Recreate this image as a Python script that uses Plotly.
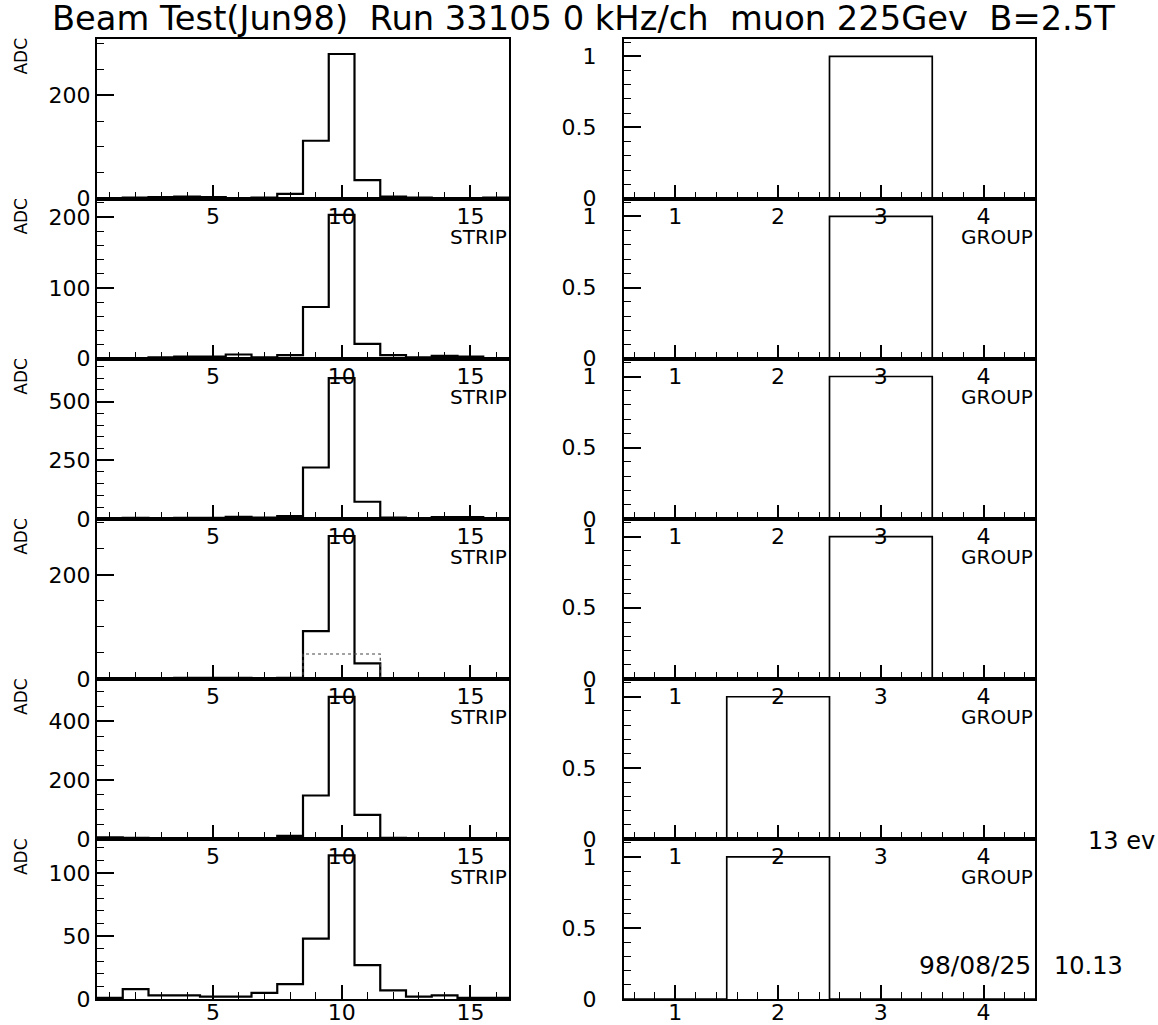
import plotly.graph_objects as go

# ---------------------------------------------------------------- data
strips = list(range(1, 17))          # strip numbers (left column)
groups = [1, 2, 3, 4]                # group numbers (right column)

# ADC per strip, one list per chamber layer (top to bottom)
adc_layer1 = [1, 2, 3, 4, 3, 1, 2, 9, 112, 280, 36, 4, 2, 1, 1, 2]
adc_layer2 = [1, 1, 2, 3, 3, 6, 2, 5, 73, 203, 21, 5, 2, 4, 3, 1]
adc_layer3 = [3, 4, 3, 4, 4, 8, 5, 12, 219, 600, 73, 5, 3, 7, 7, 2]
adc_layer4 = [1, 1, 1, 2, 2, 2, 1, 2, 92, 275, 30, 1, 1, 1, 1, 1]
adc_layer5 = [6, 4, 3, 3, 2, 2, 3, 11, 148, 483, 82, 4, 3, 2, 3, 1]
adc_layer6 = [1, 8, 3, 3, 2, 2, 5, 12, 48, 114, 27, 7, 2, 3, 1, 1]

# cluster window overlay drawn (dotted) on layer 4
adc_window4 = [0, 0, 0, 0, 0, 0, 0, 0, 48, 48, 48, 0, 0, 0, 0, 0]

# group hit flags per layer
group_layer1 = [0, 0, 1, 0]
group_layer2 = [0, 0, 1, 0]
group_layer3 = [0, 0, 1, 0]
group_layer4 = [0, 0, 1, 0]
group_layer5 = [0, 1, 0, 0]
group_layer6 = [0, 1, 0, 0]

adc_layers = [adc_layer1, adc_layer2, adc_layer3, adc_layer4, adc_layer5, adc_layer6]
group_layers = [group_layer1, group_layer2, group_layer3, group_layer4, group_layer5, group_layer6]

# vertical axis extent and tick steps of each ADC panel
adc_ymax = [310, 226, 683, 308, 544, 127]
adc_major = [200, 100, 250, 200, 200, 50]
adc_minor = [50, 20, 50, 50, 50, 10]

title_text = "Beam Test(Jun98)  Run 33105 0 kHz/ch  muon 225Gev  B=2.5T"
events_text = "13 ev"
date_text = "98/08/25"
time_text = "10.13"

# ---------------------------------------------------------------- layout
W, H = 1158, 1025
FONT = "DejaVu Sans"
LEFT_X = (97, 509)
RIGHT_X = (624, 1035)
TOP, BOTTOM = 39, 1012
NROW = 6
ROW_H = (BOTTOM - TOP) / NROW
TICK_SIZE = 22


def px_x(v):
    return v / W


def px_y(v):
    return 1 - v / H


def edges(centers):
    lo = [c - 0.5 for c in centers]
    return lo + [centers[-1] + 0.5]


def step_y(vals):
    return list(vals) + [vals[-1]]


fig = go.Figure()
layout_axes = {}
annotations = []

for r in range(NROW):
    y_top = TOP + r * ROW_H
    y_bot = y_top + ROW_H
    ydom = [px_y(y_bot), px_y(y_top)]
    last_row = r == NROW - 1
    for c in range(2):
        idx = r * 2 + c + 1
        xname = "xaxis" if idx == 1 else f"xaxis{idx}"
        yname = "yaxis" if idx == 1 else f"yaxis{idx}"
        xref = "x" if idx == 1 else f"x{idx}"
        yref = "y" if idx == 1 else f"y{idx}"

        if c == 0:
            xdom = [px_x(LEFT_X[0]), px_x(LEFT_X[1])]
            xr = [0.5, 16.5]
            xmaj, xmin = 5, 1
            yr = [0, adc_ymax[r]]
            ymaj, ymin = adc_major[r], adc_minor[r]
            ystand = 0
            fig.add_trace(go.Scatter(
                x=edges(strips), y=step_y(adc_layers[r]), mode="lines",
                line=dict(color="black", width=2.2, shape="hv"),
                xaxis=xref, yaxis=yref, hoverinfo="skip"))
            if r == 3:
                fig.add_trace(go.Scatter(
                    x=edges(strips), y=step_y(adc_window4), mode="lines",
                    line=dict(color="#444444", width=1.2, shape="hv", dash="dot"),
                    xaxis=xref, yaxis=yref, hoverinfo="skip"))
        else:
            xdom = [px_x(RIGHT_X[0]), px_x(RIGHT_X[1])]
            xr = [0.5, 4.5]
            xmaj, xmin = 1, 0.2
            yr = [0, 1.125]
            ymaj, ymin = 0.5, 0.1
            ystand = 21
            fig.add_trace(go.Scatter(
                x=edges(groups), y=step_y(group_layers[r]), mode="lines",
                line=dict(color="black", width=1.7, shape="hv"),
                xaxis=xref, yaxis=yref, hoverinfo="skip"))

        layout_axes[xname] = dict(
            domain=xdom, anchor=yref, range=xr,
            tickmode="linear", tick0=0, dtick=xmaj,
            ticks="inside", ticklen=14, tickwidth=1.5, tickcolor="black",
            minor=dict(dtick=xmin, tick0=0, ticks="inside", ticklen=7,
                       tickwidth=1.3, tickcolor="black"),
            showline=True, linewidth=2, linecolor="black", mirror=True,
            showgrid=False, zeroline=False,
            tickfont=dict(family=FONT, size=TICK_SIZE, color="black"),
            ticklabelstandoff=-8 if last_row else -3,
        )
        layout_axes[yname] = dict(
            domain=ydom, anchor=xref, range=yr,
            tickmode="linear", tick0=0, dtick=ymaj,
            ticks="inside", ticklen=17, tickwidth=1.5, tickcolor="black",
            minor=dict(dtick=ymin, tick0=0, ticks="inside", ticklen=7,
                       tickwidth=1.3, tickcolor="black"),
            showline=True, linewidth=2, linecolor="black", mirror=True,
            showgrid=False, zeroline=False,
            tickfont=dict(family=FONT, size=TICK_SIZE, color="black"),
            ticklabelstandoff=ystand,
        )

        # axis name under the tick labels (not on the bottom row)
        if not last_row:
            annotations.append(dict(
                text="STRIP" if c == 0 else "GROUP",
                xref=f"{xref} domain", x=1, xanchor="right",
                yref=f"{yref} domain", y=0, yanchor="middle", yshift=-38,
                showarrow=False,
                font=dict(family=FONT, size=20, color="black")))
        if c == 0:
            annotations.append(dict(
                text="ADC", textangle=-90,
                xref="paper", x=px_x(21), xanchor="center",
                yref=f"{yref} domain", y=1, yanchor="middle", yshift=-18,
                showarrow=False,
                font=dict(family=FONT, size=17, color="black")))

annotations += [
    dict(text=title_text, xref="paper", yref="paper",
         x=px_x(50), xanchor="left", y=px_y(19), yanchor="middle",
         showarrow=False, font=dict(family=FONT, size=33.7, color="black")),
    dict(text=events_text, xref="paper", yref="paper",
         x=px_x(1086), xanchor="left", y=px_y(852), yanchor="middle",
         showarrow=False, font=dict(family=FONT, size=24, color="black")),
    dict(text=date_text, xref="paper", yref="paper",
         x=px_x(1033), xanchor="right", y=px_y(978), yanchor="middle",
         showarrow=False, font=dict(family=FONT, size=25, color="black")),
    dict(text=time_text, xref="paper", yref="paper",
         x=px_x(1052), xanchor="left", y=px_y(978), yanchor="middle",
         showarrow=False, font=dict(family=FONT, size=24, color="black")),
]

fig.update_layout(
    width=W, height=H, autosize=False,
    margin=dict(l=0, r=0, t=0, b=0),
    paper_bgcolor="white", plot_bgcolor="white",
    showlegend=False,
    annotations=annotations,
    **layout_axes,
)

fig.write_html("out.html")
